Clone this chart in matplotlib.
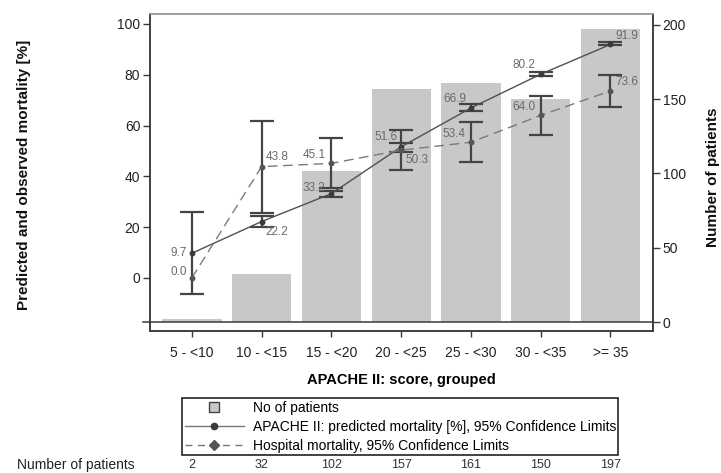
import numpy as np
import matplotlib
matplotlib.use('Agg')
import matplotlib.pyplot as plt
from matplotlib.lines import Line2D

plt.rcParams['font.family'] = ['Liberation Sans', 'DejaVu Sans']

# APACHE II score groups and counts
groups = ['5 - <10', '10 - <15', '15 - <20', '20 - <25', '25 - <30', '30 - <35', '>= 35']
n_patients = [2, 32, 102, 157, 161, 150, 197]

# predicted mortality [%] with 95% CI
pred = [9.7, 22.2, 33.2, 51.6, 66.9, 80.2, 91.9]
pred_lo = [-6.5, 20.1, 31.9, 49.7, 65.7, 79.5, 91.5]
pred_hi = [26.0, 24.4, 34.3, 53.0, 68.4, 81.2, 92.8]

# observed hospital mortality [%] with 95% CI (none for the first group)
hosp = [0.0, 43.8, 45.1, 50.3, 53.4, 64.0, 73.6]
hosp_lo = [np.nan, 25.6, 35.3, 42.5, 45.7, 56.3, 67.4]
hosp_hi = [np.nan, 61.8, 55.1, 58.3, 61.4, 71.8, 79.9]

# label offsets in pixels (dx, dy, ha)
pred_off = [(-5, 0, 'right'), (4, -10, 'left'), (-6, 6, 'right'), (-4, 10, 'right'),
            (-5, 9, 'right'), (-5, 9, 'right'), (5, 8, 'left')]
hosp_off = [(-5, 6, 'right'), (4, 10, 'left'), (-6, 8, 'right'), (4, -10, 'left'),
            (-5, 8, 'right'), (-5, 8, 'right'), (5, 9, 'left')]

x = np.arange(len(groups))
dark = '#3a3a3a'

fig = plt.figure(figsize=(7.21, 4.73), dpi=100)
ax = fig.add_axes([150/721, 142/473, 503/721, 317/473])
ax2 = ax.twinx()
ax.set_zorder(ax2.get_zorder() + 1)
ax.patch.set_visible(False)

# bars for number of patients on the right axis
ax2.bar(x, n_patients, width=0.85, color='#c8c8c8', zorder=1)
ax2.plot([-0.014, 1], [0, 0], transform=ax2.get_yaxis_transform(),
         color=dark, lw=1.1, clip_on=False, zorder=2)
ax2.set_ylim(-6.06, 207.4)
ax2.set_yticks([0, 50, 100, 150, 200])

# confidence limits
def ci_bars(center, lo, hi):
    c = np.array(center)
    lo = np.array(lo)
    hi = np.array(hi)
    ok = ~np.isnan(lo)
    ax.errorbar(x[ok], c[ok], yerr=[c[ok] - lo[ok], hi[ok] - c[ok]], fmt='none',
                ecolor='#444444', elinewidth=1.6, capsize=8.3, capthick=1.6, zorder=3)

ci_bars(pred, pred_lo, pred_hi)
ci_bars(hosp, hosp_lo, hosp_hi)

ax.plot(x, pred, color='#505050', lw=1.0, marker='o', ms=3.2, mfc=dark, mec=dark, zorder=4)
ax.plot(x, hosp, color='#7a7a7a', lw=1.0, ls=(0, (7, 4)), marker='o', ms=3.2,
        mfc='#555555', mec='#555555', zorder=4)

for i in range(len(x)):
    dx, dy, ha = pred_off[i]
    ax.annotate(f'{pred[i]:.1f}', (x[i], pred[i]), xytext=(dx, dy), textcoords='offset pixels',
                ha=ha, va='center', fontsize=8.5, color='#6a6a6a', zorder=5)
    dx, dy, ha = hosp_off[i]
    ax.annotate(f'{hosp[i]:.1f}', (x[i], hosp[i]), xytext=(dx, dy), textcoords='offset pixels',
                ha=ha, va='center', fontsize=8.5, color='#6a6a6a', zorder=5)

ax.set_xlim(-0.6, 6.61)
ax.set_ylim(-20.9, 103.9)
ax.set_yticks([0, 20, 40, 60, 80, 100])
ax.set_xticks(x)
ax.set_xticklabels(groups)

for a in (ax, ax2):
    for s in ('left', 'right', 'bottom'):
        a.spines[s].set_color(dark)
        a.spines[s].set_linewidth(1.1)
    a.spines['top'].set_color('#9a9a9a')
    a.spines['top'].set_linewidth(1.1)
    a.tick_params(direction='out', length=5, width=1, color=dark, labelsize=10,
                  labelcolor='#222222', pad=2)
ax.tick_params(axis='x', length=4.5, labelsize=10, pad=6)

ax.set_xlabel('APACHE II: score, grouped', fontsize=10.5, fontweight='bold', labelpad=10)
fig.text(24/721, 1 - 175/473, 'Predicted and observed mortality [%]', rotation=90,
         ha='center', va='center', fontsize=11, fontweight='bold', color='#111111')
fig.text(713/721, 1 - 177/473, 'Number of patients', rotation=90,
         ha='center', va='center', fontsize=11, fontweight='bold', color='#111111')

handles = [
    Line2D([], [], ls='none', marker='s', ms=7, mfc='#c8c8c8', mec='#444444', mew=1.0),
    Line2D([], [], color='#777777', lw=1.0, marker='o', ms=4.5, mfc=dark, mec=dark),
    Line2D([], [], color='#777777', lw=1.0, ls=(0, (5, 4)), marker='D', ms=5.5,
           mfc='#555555', mec='#555555'),
]
labels = ['No of patients', 'APACHE II: predicted mortality [%], 95% Confidence Limits',
          'Hospital mortality, 95% Confidence Limits']
leg = fig.legend(handles, labels, loc='upper left', bbox_to_anchor=(182/721, 1 - 398/473),
                 frameon=True, fancybox=False, edgecolor='#222222', framealpha=1,
                 borderaxespad=0, handlelength=4.3, handletextpad=0.6, borderpad=0.18,
                 labelspacing=0.36, fontsize=10)
leg.get_frame().set_linewidth(1.2)

# counts row under the legend
fig.text(17/721, 1 - 465/473, 'Number of patients', ha='left', va='center', fontsize=10,
         color='#222222')
for i in range(len(x)):
    ax.text(x[i], (331 - 465) / 317, str(n_patients[i]), transform=ax.get_xaxis_transform(),
            ha='center', va='center', fontsize=9, color='#333333', clip_on=False)

fig.savefig('out.png', dpi=100)
